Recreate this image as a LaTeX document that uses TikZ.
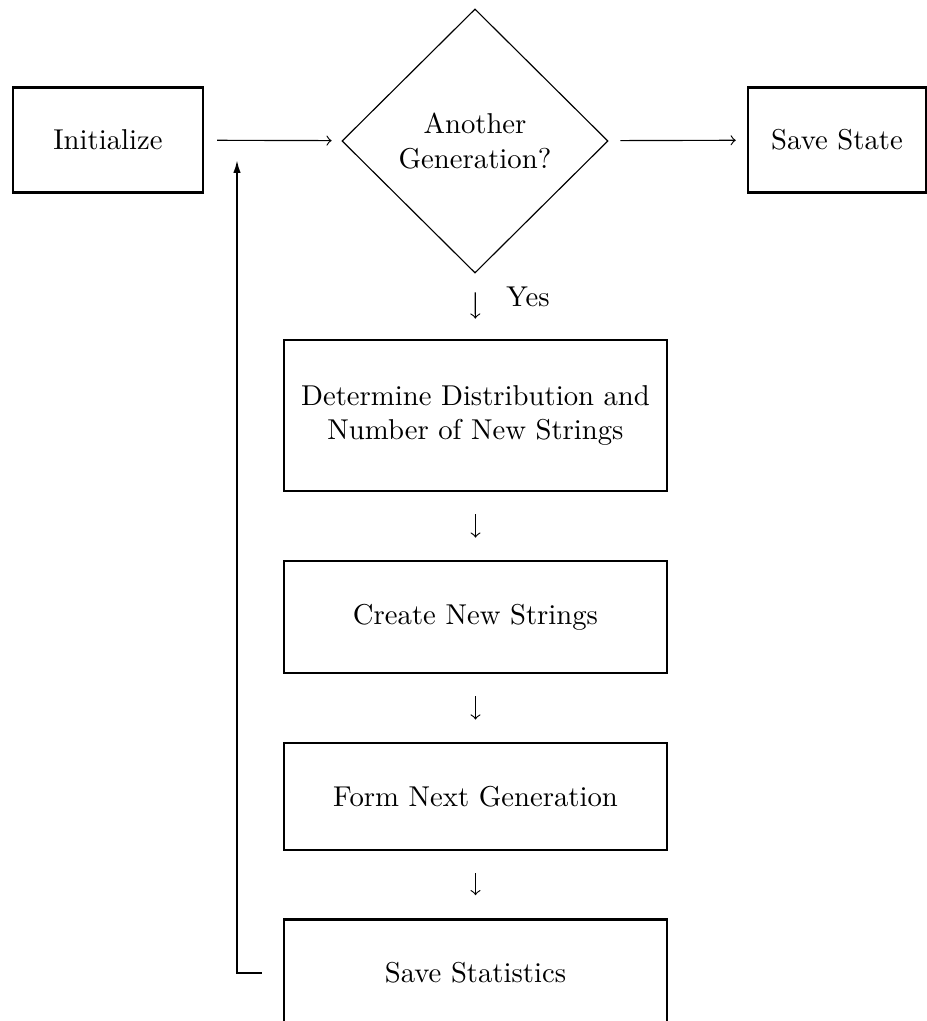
\documentclass[tikz,border=0pt]{standalone}
\usepackage{tikz}
\usetikzlibrary{shapes.geometric,arrows.meta}
\begin{document}
\begin{tikzpicture}[x=0.3484pt,y=-0.3484pt,
    procbox/.style={draw,line width=0.9pt,minimum width=133.4pt,align=center,inner sep=0pt},
    flow/.style={line width=0.4pt,-to},
    down/.style={flow,shorten <=7.7pt,shorten >=7.7pt}]
    \clip (0,0) rectangle (927,1021);

    % Marking the start and end boxes
    \node [procbox,minimum width=66.2pt,minimum height=36.6pt] (init) at (108,140) {Initialize};
    \node [procbox,minimum width=62pt,minimum height=36.6pt] (save) at (837,140) {Save State};

    % Marking the question by diamond
    \node [draw,diamond,line width=0.4pt,minimum width=92.7pt,minimum height=92pt,
           inner sep=0pt,align=center] (gen) at (475,141) {Another\\Generation?};

    % Marking the steps of one generation
    \node [procbox,minimum height=52.6pt] (dist) at (475.5,415.5)
          {Determine Distribution and\\Number of New Strings};
    \node [procbox,minimum height=39pt] (create) at (475.5,617) {Create New Strings};
    \node [procbox,minimum height=37.3pt] (form) at (475.5,796.5) {Form Next Generation};
    \node [procbox,minimum height=37.3pt] (stats) at (475.5,973) {Save Statistics};

    % Drawing the top row arrows
    \draw [flow,shorten <=4.5pt,shorten >=3.5pt] (init) -- (gen);
    \draw [flow,shorten <=4.2pt,shorten >=3.8pt] (gen) -- (save);

    % Drawing the downward arrows
    \draw [down,shorten <=6.6pt,shorten >=7pt] (gen) -- (dist);
    \node (yes) at (528,297) {Yes};
    \draw [down] (dist) -- (create);
    \draw [down] (create) -- (form);
    \draw [down,shorten >=8pt] (form) -- (stats);

    % Drawing the way back to the question
    \coordinate (ret) at (237,160);
    \draw [line width=0.7pt,-{Latex[length=4.5pt,width=2.6pt]},shorten <=7.3pt]
          (stats.west) -- (stats.west -| ret) -- (ret);
\end{tikzpicture}
\end{document}
